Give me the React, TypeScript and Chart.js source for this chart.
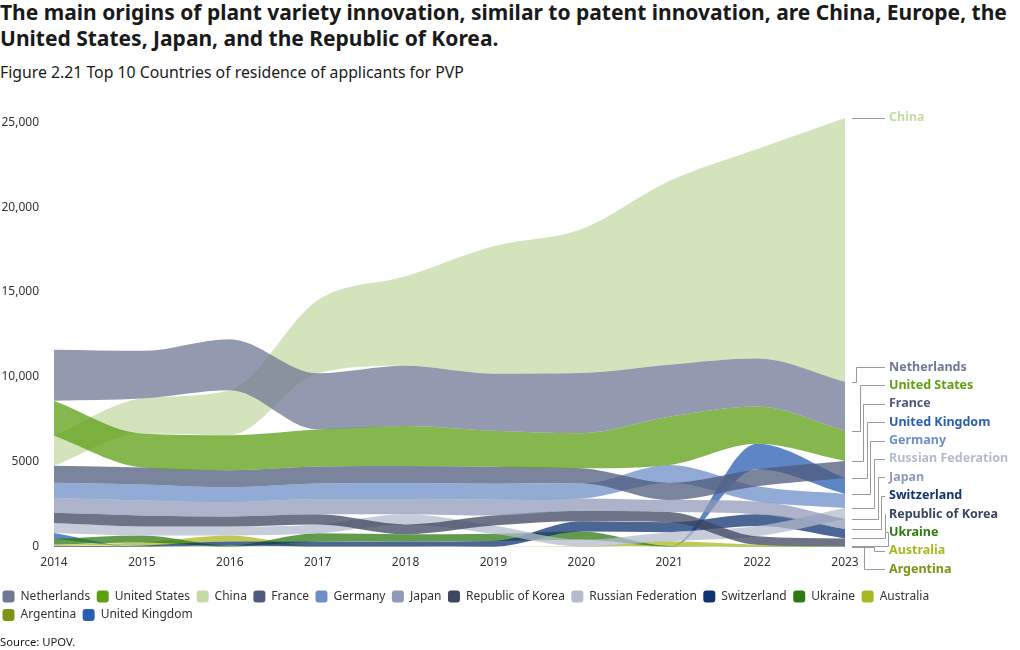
import React, { useEffect, useRef } from "react";
import { Chart, registerables } from "chart.js";
Chart.register(...registerables);

const years = ["2014", "2015", "2016", "2017", "2018", "2019", "2020", "2021", "2022", "2023"];
const countryNames = [
  "Netherlands", "United States", "China", "France", "Germany", "Japan",
  "Republic of Korea", "Russian Federation", "Switzerland", "Ukraine",
  "Australia", "Argentina", "United Kingdom",
];
const netherlands = [3000, 2800, 3000, 3300, 3540, 3360, 3540, 3070, 2830, 2890];
const unitedStates = [2060, 2000, 2060, 2180, 2360, 2120, 2070, 2830, 2180, 1770];
const china = [1770, 2060, 2650, 4300, 5270, 7500, 8460, 10800, 12330, 15520];
const france = [1000, 1000, 1000, 1000, 1000, 1000, 900, 1020, 1000, 1000];
const germany = [890, 940, 890, 920, 940, 940, 880, 1050, 900, 830];
const japan = [880, 880, 830, 900, 890, 930, 720, 700, 750, 580];
const korea = [600, 650, 590, 590, 580, 590, 620, 600, 500, 470];
const russia = [580, 530, 530, 520, 600, 480, 400, 530, 600, 650];
const switzerland = [40, 60, 240, 280, 300, 340, 600, 590, 700, 560];
const ukraine = [330, 410, 60, 500, 420, 420, 480, 30, 20, 20];
const australia = [60, 180, 350, 20, 20, 10, 20, 280, 100, 10];
const argentina = [50, 30, 30, 10, 10, 10, 10, 20, 10, 5];
const unitedKingdom = [350, 0, 0, 0, 0, 0, 0, 10, 1500, 940];

const seriesValues = [
  netherlands, unitedStates, china, france, germany, japan, korea, russia,
  switzerland, ukraine, australia, argentina, unitedKingdom,
];
const seriesColors = [
  "#6f7894", "#5e9f14", "#c4dba6", "#4f5b7c", "#6e8ec8", "#9099b8", "#3c465f",
  "#b4bbce", "#0f3272", "#2d7a12", "#a8b820", "#7b9615", "#2a5eb0",
];
const yTicks = [0, 5000, 10000, 15000, 20000, 25000];
const yMax = 25300;

function hexToRgba(hex: string, a: number) {
  const n = parseInt(hex.slice(1), 16);
  return `rgba(${(n >> 16) & 255},${(n >> 8) & 255},${n & 255},${a})`;
}

function stackBands(values: number[][]) {
  const m = values[0].length;
  const lower = values.map(() => new Array(m).fill(0));
  const upper = values.map(() => new Array(m).fill(0));
  for (let j = 0; j < m; j++) {
    const order = values.map((_, i) => i).sort((a, b) => values[a][j] - values[b][j]);
    let acc = 0;
    for (const i of order) {
      lower[i][j] = acc;
      acc += values[i][j];
      upper[i][j] = acc;
    }
  }
  return { lower, upper };
}

export default function App() {
  const ref = useRef<HTMLCanvasElement | null>(null);

  useEffect(() => {
    if (!ref.current) return;
    const { lower, upper } = stackBands(seriesValues);
    const datasets: any[] = [];
    countryNames.forEach((name, i) => {
      datasets.push({
        label: name + "__base",
        data: lower[i],
        borderWidth: 0,
        borderColor: "rgba(0,0,0,0)",
        pointRadius: 0,
        fill: false,
        cubicInterpolationMode: "monotone",
      });
      datasets.push({
        label: name,
        data: upper[i],
        borderWidth: 0,
        borderColor: "rgba(0,0,0,0)",
        backgroundColor: hexToRgba(seriesColors[i], 0.75),
        pointRadius: 0,
        fill: "-1",
        cubicInterpolationMode: "monotone",
      });
    });

    const endLabels = {
      id: "endLabels",
      afterDatasetsDraw(chart: any) {
        const { ctx, chartArea } = chart;
        const xs = chart.scales.x;
        const ys = chart.scales.y;
        const last = years.length - 1;
        const xEnd = xs.getPixelForValue(last);
        const items = countryNames.map((name, i) => ({
          name,
          color: seriesColors[i],
          anchor: ys.getPixelForValue(upper[i][last]),
        }));
        items.sort((a, b) => a.anchor - b.anchor);
        const spacing = 18.35;
        const maxY = chartArea.bottom + 22;
        const pos = items.map((it) => it.anchor);
        for (let k = 1; k < pos.length; k++) pos[k] = Math.max(pos[k], pos[k - 1] + spacing);
        if (pos[pos.length - 1] > maxY) {
          pos[pos.length - 1] = maxY;
          for (let k = pos.length - 2; k >= 0; k--) pos[k] = Math.min(pos[k], pos[k + 1] - spacing);
        }
        const labelX = xEnd + 44;
        const startX = xEnd + 7;
        ctx.save();
        ctx.strokeStyle = "#9a9a9a";
        ctx.lineWidth = 1;
        let upCount = 0;
        const downIdx: number[] = [];
        items.forEach((it, k) => {
          if (pos[k] > it.anchor + 0.5) downIdx.push(k);
        });
        items.forEach((it, k) => {
          const ly = Math.round(pos[k]) + 0.5;
          const ay = Math.round(it.anchor) + 0.5;
          ctx.beginPath();
          if (Math.abs(ly - ay) < 1) {
            ctx.moveTo(startX, ay);
            ctx.lineTo(labelX - 4, ay);
          } else {
            let ex: number;
            if (ly < ay) {
              ex = Math.round(startX + 4 + upCount * 3.6) + 0.5;
              upCount++;
            } else {
              const d = downIdx.indexOf(k);
              ex = Math.round(startX + 22 - d * 10) + 0.5;
            }
            ctx.moveTo(startX, ay);
            ctx.lineTo(ex, ay);
            ctx.lineTo(ex, ly);
            ctx.lineTo(labelX - 4, ly);
          }
          ctx.stroke();
        });
        ctx.font = "bold 12.5px 'Noto Sans', sans-serif";
        ctx.textBaseline = "middle";
        ctx.textAlign = "left";
        items.forEach((it, k) => {
          ctx.fillStyle = it.color;
          ctx.fillText(it.name, labelX, pos[k]);
        });
        ctx.restore();
      },
    };

    Chart.defaults.font.family = "'Noto Sans', sans-serif";
    const chart = new Chart(ref.current, {
      type: "line",
      data: { labels: years, datasets },
      plugins: [endLabels],
      options: {
        animation: false,
        responsive: false,
        devicePixelRatio: 1,
        layout: { padding: { top: 117, left: 0, right: 20, bottom: 19 } },
        elements: { point: { radius: 0 } },
        plugins: {
          tooltip: { enabled: false },
          legend: {
            position: "bottom",
            align: "start",
            labels: {
              boxWidth: 12,
              boxHeight: 12,
              useBorderRadius: true,
              borderRadius: 3,
              padding: 6.5,
              color: "#333",
              font: { size: 12 },
              generateLabels: () =>
                countryNames.map((name, i) => ({
                  text: name,
                  fillStyle: seriesColors[i],
                  strokeStyle: seriesColors[i],
                  lineWidth: 0,
                  hidden: false,
                  datasetIndex: 2 * i + 1,
                  borderRadius: 3,
                  fontColor: "#333",
                })),
            },
          },
        },
        scales: {
          x: {
            type: "category",
            offset: false,
            grid: { display: false, drawTicks: false },
            border: { display: false },
            ticks: { padding: 8.8, color: "#333", font: { size: 12 }, maxRotation: 0, autoSkip: false },
            afterFit: (s: any) => { s.height = 37; },
          },
          y: {
            min: 0,
            max: yMax,
            grid: { display: false, drawTicks: false },
            border: { display: false },
            afterBuildTicks: (s: any) => { s.ticks = yTicks.map((v) => ({ value: v })); },
            ticks: {
              padding: 15,
              color: "#333",
              font: { size: 12 },
              callback: (v: any) => (Number(v) >= 10000 ? Number(v).toLocaleString("en-US") : String(v)),
            },
            afterFit: (s: any) => { s.width = 58; },
          },
          yRight: {
            type: "linear",
            position: "right",
            display: true,
            grid: { display: false, drawTicks: false },
            border: { display: false },
            ticks: { display: false },
            afterFit: (s: any) => { s.width = 155; },
          },
        },
      } as any,
    });
    return () => chart.destroy();
  }, []);

  return (
    <div style={{ position: "fixed", left: 0, top: 0, width: 1020, height: 650, background: "#fff", overflow: "hidden", fontFamily: "'Noto Sans', sans-serif", color: "#1a1a1a" }}>
      <div style={{ position: "absolute", left: 0, top: -1, fontSize: 21, fontWeight: 700, lineHeight: "26px", whiteSpace: "nowrap", color: "#1a1a1a" }}>
        The main origins of plant variety innovation, similar to patent innovation, are China, Europe, the<br />
        United States, Japan, and the Republic of Korea.
      </div>
      <div style={{ position: "absolute", left: 0, top: 62, fontSize: 15.8, lineHeight: "20px", whiteSpace: "nowrap", color: "#1a1a1a" }}>
        Figure 2.21 Top 10 Countries of residence of applicants for PVP
      </div>
      <canvas ref={ref} width={1024} height={650} style={{ position: "absolute", left: -4, top: 0, width: 1024, height: 650 }} />
      <div style={{ position: "absolute", left: 0, top: 634, fontSize: 11.3, lineHeight: "16px", whiteSpace: "nowrap", color: "#1a1a1a" }}>
        Source: UPOV.
      </div>
    </div>
  );
}
